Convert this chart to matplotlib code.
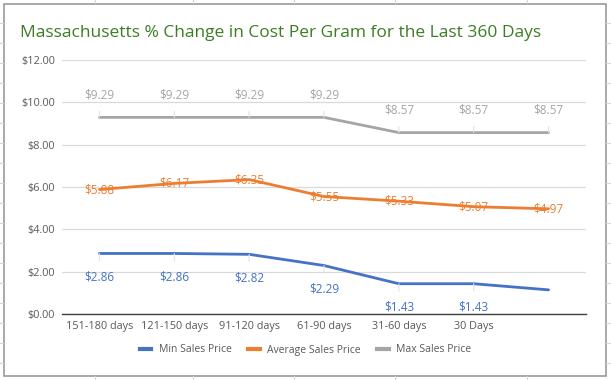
import matplotlib
matplotlib.use("Agg")
import matplotlib.pyplot as plt
from matplotlib.lines import Line2D
from matplotlib.patches import Rectangle

# chart data
categories = ["151-180 days", "121-150 days", "91-120 days", "61-90 days",
              "31-60 days", "30 Days", ""]
min_price = [2.86, 2.86, 2.82, 2.29, 1.43, 1.43, 1.14]
avg_price = [5.88, 6.17, 6.35, 5.55, 5.33, 5.07, 4.97]
max_price = [9.29, 9.29, 9.29, 9.29, 8.57, 8.57, 8.57]
min_labeled = [True, True, True, True, True, True, False]

BLUE = "#4472C4"
ORANGE = "#ED7D31"
GRAY = "#A5A5A5"
TXT = "#595959"

plt.rcParams["font.family"] = ["Open Sans", "DejaVu Sans"]

W, H = 611, 380
fig = plt.figure(figsize=(W / 100, H / 100), dpi=100)
fig.patch.set_facecolor("white")


def px(x, y):
    return x / W, 1 - y / H


# spreadsheet grid peeking out around the chart
for gx in [95, 193, 294, 395, 527]:
    for y0, y1 in [(0, 3), (376, 380)]:
        fig.add_artist(Line2D([gx / W] * 2, [1 - y0 / H, 1 - y1 / H],
                              color="#d6d6d6", lw=0.8))
for gy in range(23, 380, 20):
    for x0, x1 in [(0, 3), (606, 611)]:
        fig.add_artist(Line2D([x0 / W, x1 / W], [1 - gy / H] * 2,
                              color="#d6d6d6", lw=0.8))

# chart border
fig.add_artist(Rectangle(px(3.5, 376), 602.5 / W, 372.5 / H,
                         facecolor="white", edgecolor="#9a9a9a", lw=1.2,
                         zorder=0))

ax = fig.add_axes([62 / W, 1 - 314 / H, 524 / W, 254 / H])
ax.set_facecolor("white")
x = list(range(len(categories)))

ax.plot(x, min_price, color=BLUE, lw=2, zorder=3, solid_capstyle="round")
ax.plot(x, avg_price, color=ORANGE, lw=2, zorder=3, solid_capstyle="round")
ax.plot(x, max_price, color=GRAY, lw=2, zorder=3, solid_capstyle="round")

lbl_kw = dict(ha="center", va="center", fontsize=8.5,
              textcoords="offset points")
leader = dict(arrowstyle="-", color="#e2e2e2", lw=0.8, shrinkA=5, shrinkB=0)

for i, v in enumerate(max_price):
    ax.annotate(f"${v:.2f}", (i, v), xytext=(0, 16), color=GRAY,
                arrowprops=leader, zorder=4, **lbl_kw)
for i, v in enumerate(avg_price):
    ax.annotate(f"${v:.2f}", (i, v), xytext=(0, 0), color=ORANGE,
                zorder=4, **lbl_kw)
for i, v in enumerate(min_price):
    if min_labeled[i]:
        ax.annotate(f"${v:.2f}", (i, v), xytext=(0, -17), color=BLUE,
                    arrowprops=leader, zorder=4, **lbl_kw)

ax.set_xlim(-0.5, len(categories) - 0.5)
ax.set_ylim(0, 12)
ax.set_yticks(range(0, 13, 2))
ax.set_yticklabels([f"${t:.2f}" for t in range(0, 13, 2)])
ax.set_xticks(x)
ax.set_xticklabels(categories)
ax.tick_params(axis="both", length=0, labelsize=7.8, colors=TXT)
ax.tick_params(axis="y", pad=5)
ax.tick_params(axis="x", pad=5)
ax.yaxis.grid(True, color="#d9d9d9", lw=0.9)
ax.set_axisbelow(True)
for s in ["top", "right", "left"]:
    ax.spines[s].set_visible(False)
ax.spines["bottom"].set_color("#404040")
ax.spines["bottom"].set_linewidth(1)

fig.text(20 / W, 1 - 33 / H,
         "Massachusetts % Change in Cost Per Gram for the Last 360 Days",
         color="#3C7D22", fontsize=12.5, ha="left", va="center")

handles = [Line2D([], [], color=c, lw=3) for c in (BLUE, ORANGE, GRAY)]
fig.legend(handles, ["Min Sales Price", "Average Sales Price", "Max Sales Price"],
           loc="center", bbox_to_anchor=(0.5, 1 - 350 / H), ncol=3,
           frameon=False, fontsize=7.5, labelcolor=TXT, handlelength=1.1,
           handletextpad=0.7, columnspacing=1.6)

fig.savefig("out.png", dpi=100)
